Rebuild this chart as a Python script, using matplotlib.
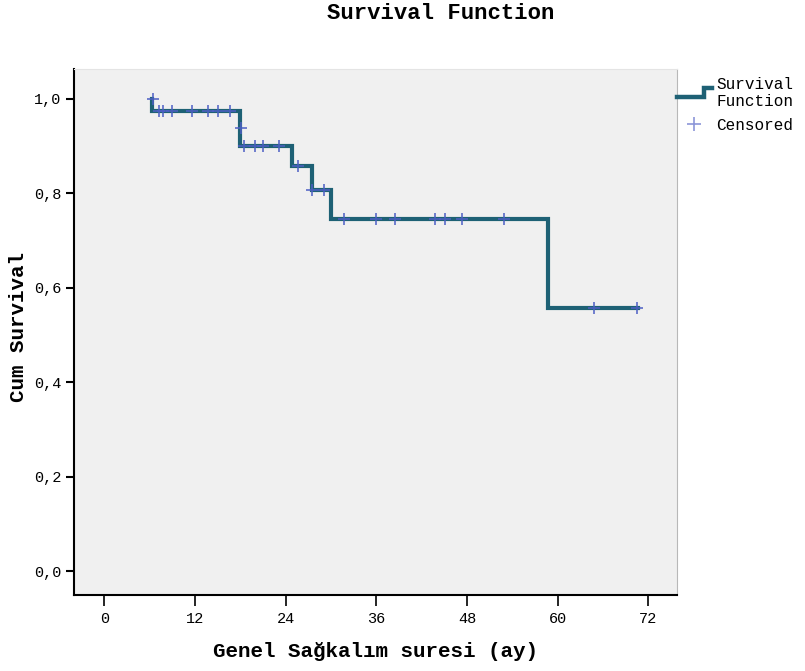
import matplotlib
matplotlib.use("Agg")
import matplotlib.pyplot as plt
from matplotlib.lines import Line2D
from matplotlib.legend_handler import HandlerBase

# Kaplan-Meier curve
step_times = [6.3, 6.3, 18.0, 24.9, 27.5, 30.0, 58.8, 70.6]
step_surv = [1.0, 0.975, 0.900, 0.857, 0.806, 0.745, 0.557, 0.557]

# censored cases
cens_times = [6.4, 7.3, 7.8, 9.0, 11.6, 13.8, 15.1, 16.7, 18.1,
              18.5, 20.0, 21.0, 23.2, 25.7, 27.5, 29.1,
              31.8, 36.0, 38.5, 43.8, 45.1, 47.4, 52.9, 64.8, 70.5]
cens_surv = [1.0, 0.975, 0.975, 0.975, 0.975, 0.975, 0.975, 0.975, 0.939,
             0.900, 0.900, 0.900, 0.900, 0.857, 0.806, 0.806,
             0.745, 0.745, 0.745, 0.745, 0.745, 0.745, 0.745, 0.557, 0.557]

x_ticks = [0, 12, 24, 36, 48, 60, 72]
y_ticks = [0.0, 0.2, 0.4, 0.6, 0.8, 1.0]
y_labels = ["0,0", "0,2", "0,4", "0,6", "0,8", "1,0"]

line_col = "#1e6175"
mark_col = "#4d5fc4"
mono = "Liberation Mono"


class StepHandler(HandlerBase):
    # legend icon drawn as a small step
    def create_artists(self, legend, orig, xd, yd, w, h, fontsize, trans):
        xs = [-xd, -xd + w * 0.78, -xd + w * 0.78, -xd + w]
        ys = [h * 0.2 - yd, h * 0.2 - yd, h * 1.0 - yd, h * 1.0 - yd]
        ln = Line2D(xs, ys, color=line_col, lw=3.2, transform=trans,
                    solid_joinstyle="miter")
        return [ln]


fig = plt.figure(figsize=(8.05, 6.71), dpi=100)
ax = fig.add_axes([0.0919, 0.1133, 0.749, 0.784])
ax.set_facecolor("#f0f0f0")

ax.step(step_times, step_surv, where="post", color=line_col, lw=3,
        solid_joinstyle="miter")
ax.plot(cens_times, cens_surv, ls="none", marker="+", ms=8, mew=1.3,
        color=mark_col, alpha=0.85)

ax.set_xlim(-4, 75.8)
ax.set_ylim(-0.05, 1.063)
ax.set_xticks(x_ticks)
ax.set_yticks(y_ticks)
ax.set_yticklabels(y_labels)
for lab in ax.get_xticklabels() + ax.get_yticklabels():
    lab.set_fontfamily(mono)
    lab.set_fontsize(11)
ax.tick_params(axis="x", length=8, width=1.2, pad=4)
ax.tick_params(axis="y", length=6, width=1.5, pad=3)

ax.spines["left"].set_linewidth(1.5)
ax.spines["bottom"].set_linewidth(1.5)
ax.spines["right"].set_color("#b8b8b8")
ax.spines["top"].set_color("#e4e4e4")

ax.set_xlabel("Genel Sağkalım suresi (ay)", family=mono, weight="bold",
              fontsize=15, labelpad=12)
ax.set_ylabel("Cum Survival", family=mono, weight="bold", fontsize=15)
ax.yaxis.set_label_coords(-0.077, 0.51)
fig.text(0.548, 0.995, "Survival Function", family=mono, weight="bold",
         fontsize=16, ha="center", va="top")

h_line = Line2D([], [], color=line_col, lw=3)
h_cens = Line2D([], [], ls="none", marker="+", ms=10, mew=1.2,
                color="#8c96d8")
ax.legend([h_line, h_cens], ["Survival\nFunction", "Censored"],
          handler_map={h_line: StepHandler()},
          loc="upper left", bbox_to_anchor=(1.0, 0.985), frameon=False,
          prop={"family": mono, "size": 11.5}, handlelength=2.2,
          handletextpad=0.25, borderaxespad=0.0, borderpad=0.0,
          labelspacing=0.55)

fig.savefig("out.png", dpi=100)
